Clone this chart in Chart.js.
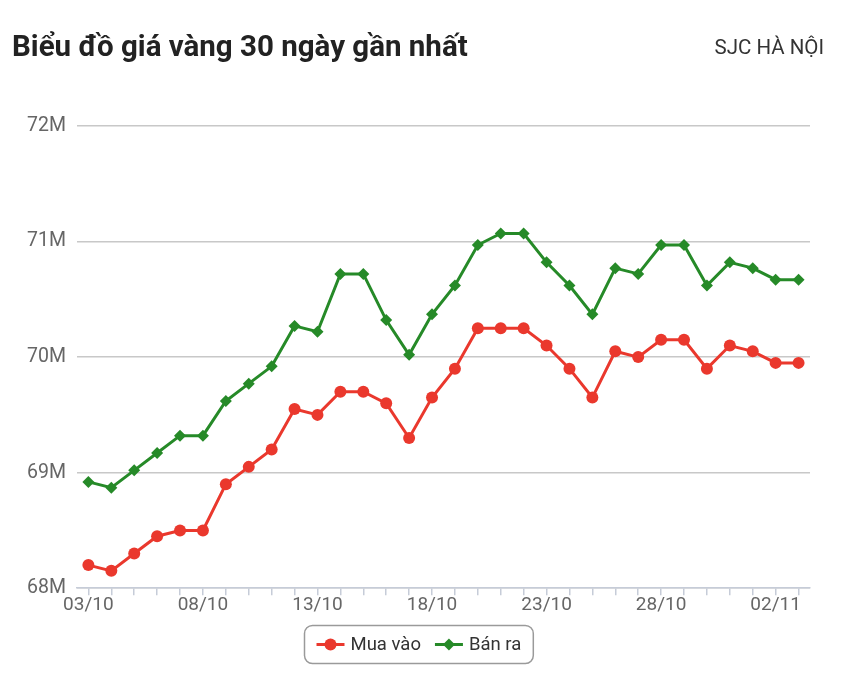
<!DOCTYPE html>
<html>
<head>
<meta charset="utf-8">
<script src="https://cdn.jsdelivr.net/npm/chart.js@4.4.0/dist/chart.umd.min.js"></script>
<style>
  html, body { margin: 0; padding: 0; background: #fff; }
  body { width: 845px; height: 676px; position: relative; overflow: hidden; font-family: Roboto, sans-serif; }
  #title { position: absolute; left: 12px; top: 29px; font-size: 29.5px; font-weight: 700; color: #222; }
  #place { position: absolute; right: 21px; top: 35px; font-size: 20.5px; color: #333; }
  #wrap { position: absolute; left: 0; top: 0; width: 845px; height: 676px; }
</style>
</head>
<body>
<div id="wrap"><canvas id="canvas1" width="845" height="676"></canvas></div>
<div id="title">Biểu đồ giá vàng 30 ngày gần nhất</div>
<div id="place">SJC HÀ NỘI</div>
<script>
var days = ['03/10','04/10','05/10','06/10','07/10','08/10','09/10','10/10','11/10','12/10',
            '13/10','14/10','15/10','16/10','17/10','18/10','19/10','20/10','21/10','22/10',
            '23/10','24/10','25/10','26/10','27/10','28/10','29/10','30/10','31/10','01/11',
            '02/11','03/11'];
var muaVao = [68.2, 68.15, 68.3, 68.45, 68.5, 68.5, 68.9, 69.05, 69.2, 69.55,
              69.5, 69.7, 69.7, 69.6, 69.3, 69.65, 69.9, 70.25, 70.25, 70.25,
              70.1, 69.9, 69.65, 70.05, 70.0, 70.15, 70.15, 69.9, 70.1, 70.05,
              69.95, 69.95];
var banRa = [68.92, 68.87, 69.02, 69.17, 69.32, 69.32, 69.62, 69.77, 69.92, 70.27,
             70.22, 70.72, 70.72, 70.32, 70.02, 70.37, 70.62, 70.97, 71.07, 71.07,
             70.82, 70.62, 70.37, 70.77, 70.72, 70.97, 70.97, 70.62, 70.82, 70.77,
             70.67, 70.67];
var yTicks = [68, 69, 70, 71, 72];

var red = 'rgb(234, 56, 45)';
var green = 'rgb(38, 138, 40)';

var canvas1;
var myChart1;

// legend drawn by hand: box with line + marker for each dataset
var boxLegend = {
    id: 'boxLegend',
    afterDraw: function(chart) {
        var ctx = chart.ctx;
        var sets = chart.data.datasets;
        ctx.save();
        ctx.font = '18.5px Roboto, sans-serif';
        var items = [];
        var total = 0;
        for (let i = 0; i < sets.length; i++) {
            var w = 28 + 6 + ctx.measureText(sets[i].label).width;
            items.push(w);
            total += w;
        }
        total += 14 * (sets.length - 1);
        var padX = 12;
        var bw = total + padX * 2;
        var bh = 38;
        var bx = Math.round(418 - bw / 2) + 0.5;
        var by = 625.5;
        ctx.strokeStyle = '#9a9a9a';
        ctx.lineWidth = 1.5;
        ctx.beginPath();
        ctx.roundRect(bx, by, bw, bh, 8);
        ctx.stroke();

        var x = bx + padX;
        var cy = by + bh / 2;
        for (let i = 0; i < sets.length; i++) {
            var ds = sets[i];
            ctx.strokeStyle = ds.borderColor;
            ctx.lineWidth = 3;
            ctx.beginPath();
            ctx.moveTo(x, cy);
            ctx.lineTo(x + 28, cy);
            ctx.stroke();
            ctx.fillStyle = ds.borderColor;
            Chart.helpers.drawPoint(ctx, {pointStyle: ds.pointStyle, radius: 6, borderWidth: 0}, x + 14, cy);
            ctx.fillStyle = '#333';
            ctx.textBaseline = 'middle';
            ctx.textAlign = 'left';
            ctx.fillText(ds.label, x + 34, cy + 1);
            x += items[i] + 14;
        }
        ctx.restore();
    }
};

function start() {
    canvas1 = document.getElementById('canvas1');
    setchart();
}

function setchart() {
    myChart1 = new Chart(canvas1, {
        type: 'line',
        data: {
            labels: days,
            datasets: [{
                label: 'Mua vào',
                data: muaVao,
                borderColor: red,
                backgroundColor: red,
                borderWidth: 3,
                pointStyle: 'circle',
                pointRadius: 6,
                pointBorderWidth: 0,
                tension: 0
            }, {
                label: 'Bán ra',
                data: banRa,
                borderColor: green,
                backgroundColor: green,
                borderWidth: 3,
                pointStyle: 'rectRot',
                pointRadius: 6,
                pointBorderWidth: 0,
                tension: 0
            }]
        },
        options: {
            responsive: false,
            animation: false,
            layout: {
                padding: {top: 126, right: 35, bottom: 60, left: 16}
            },
            scales: {
                y: {
                    min: yTicks[0],
                    max: yTicks[yTicks.length - 1],
                    afterBuildTicks: function(axis) {
                        axis.ticks = yTicks.map(function(v) { return {value: v}; });
                    },
                    grid: {color: '#c8c8c8', lineWidth: 1.5, drawTicks: false},
                    border: {display: false},
                    ticks: {
                        color: '#666',
                        font: {family: 'Roboto', size: 19.5},
                        padding: 11,
                        callback: function(v) { return v + 'M'; }
                    }
                },
                x: {
                    offset: true,
                    grid: {
                        drawOnChartArea: false,
                        drawTicks: true,
                        tickLength: 7,
                        color: '#c6ccd8',
                        lineWidth: 1.5
                    },
                    border: {color: '#c6ccd8', width: 1.5},
                    ticks: {
                        color: '#666',
                        font: {family: 'Roboto', size: 19},
                        autoSkip: false,
                        maxRotation: 0,
                        padding: -1,
                        callback: function(v, i) { return i % 5 === 0 ? days[i] : ''; }
                    }
                }
            },
            plugins: {
                legend: {display: false},
                tooltip: {enabled: false}
            }
        },
        plugins: [boxLegend]
    });
}

start();
</script>
</body>
</html>
